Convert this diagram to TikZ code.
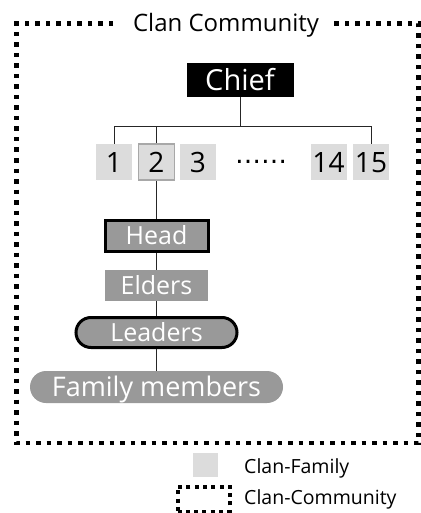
\documentclass[tikz,border=0pt]{standalone}
\usepackage{fontspec}
\setmainfont{Open Sans}
\newfontfamily\dotsfont{DejaVu Sans}
\usetikzlibrary{positioning}
\definecolor{familygray}{HTML}{DCDCDC}
\definecolor{rankgray}{HTML}{999999}
\definecolor{bordergray}{HTML}{A8A8A8}

\begin{document}
\begin{tikzpicture}[x=1pt, y=-1pt, node distance=42pt,
  dot line/.style={line width=4.5pt, dash pattern=on 4.5pt off 6pt},
  key dot line/.style={line width=4pt, dash pattern=on 4pt off 4.3pt},
  conn/.style={line width=1pt, draw=black!85},
  family node/.style={rectangle, fill=familygray, minimum width=36pt, minimum height=36pt,
    inner sep=0pt, text height=20pt, text depth=0pt, font=\fontsize{28}{28}\selectfont},
  rank node/.style={rectangle, fill=rankgray, text=white, inner sep=0pt,
    text height=17.9pt, text depth=0pt, font=\fontsize{25}{25}\selectfont},
  legend text/.style={anchor=west, inner sep=0pt, text height=13.9pt, text depth=0pt,
    font=\fontsize{19.5}{19.5}\selectfont}]

\useasboundingbox (0,0) rectangle (420,513);

% community frame
\draw[dot line] (113,23.5) -- (16.5,23.5) -- (16.5,443) -- (418.5,443) -- (418.5,23.5) -- (330,23.5);
\node[inner sep=0pt, text height=17.1pt, text depth=0pt, font=\fontsize{24}{24}\selectfont]
  (title) at (226,23) {Clan Community};

\node[rectangle, fill=black, text=white, minimum width=107pt, minimum height=34pt, inner sep=0pt,
  text height=20.7pt, text depth=0pt, font=\fontsize{29}{29}\selectfont] (chief) at (240,80) {Chief};

% families
\node[family node] (f1) at (114,162) {1};
\node[family node, draw=bordergray, line width=1.5pt] (f2) [right of=f1, node distance=42.5pt] {2};
\node[family node] (f3) [right of=f2, node distance=41.5pt] {3};
\node[inner sep=0pt, font=\dotsfont\fontsize{26}{26}\selectfont] (more) [right of=f3, node distance=63pt] {……};
\node[family node] (f14) [right of=more, node distance=67.5pt] {14};
\node[family node] (f15) [right of=f14, node distance=42.5pt] {15};

% ranks inside a family
\node[rank node, draw=black, line width=3pt, minimum width=103pt, minimum height=31pt]
  (head) [below of=f2, node distance=74pt] {Head};
\node[rank node, minimum width=103pt, minimum height=31pt]
  (elders) [below of=head, node distance=49.5pt] {Elders};
\node[rank node, draw=black, line width=3pt, rounded corners=15pt, minimum width=161pt, minimum height=30pt]
  (leaders) [below of=elders, node distance=47pt] {Leaders};
\node[rank node, rounded corners=16pt, minimum width=253pt, minimum height=32pt,
  text height=19.3pt, font=\fontsize{27}{27}\selectfont]
  (members) [below of=leaders, node distance=54.5pt] {Family members};

\path (chief.south) ++(0,29) coordinate (bus);
\draw[conn] (chief) -- (bus);
\draw[conn] (f1) |- (bus) -| (f15);
\draw[conn] (f2) -- (f2 |- bus);

\path[conn]
(f2) edge (head)
(head) edge (elders)
(elders) edge (leaders)
(leaders) edge (members)
;

% legend
\node[fill=familygray, minimum width=25pt, minimum height=24pt, inner sep=0pt] (key family) at (205.5,465) {};
\node[legend text] (key family text) at (244,467) {Clan-Family};
\node[draw, key dot line, minimum width=52pt, minimum height=25pt, inner sep=0pt] (key community) at (203.5,499) {};
\node[legend text] (key community text) at (244,497.5) {Clan-Community};

\end{tikzpicture}
\end{document}
